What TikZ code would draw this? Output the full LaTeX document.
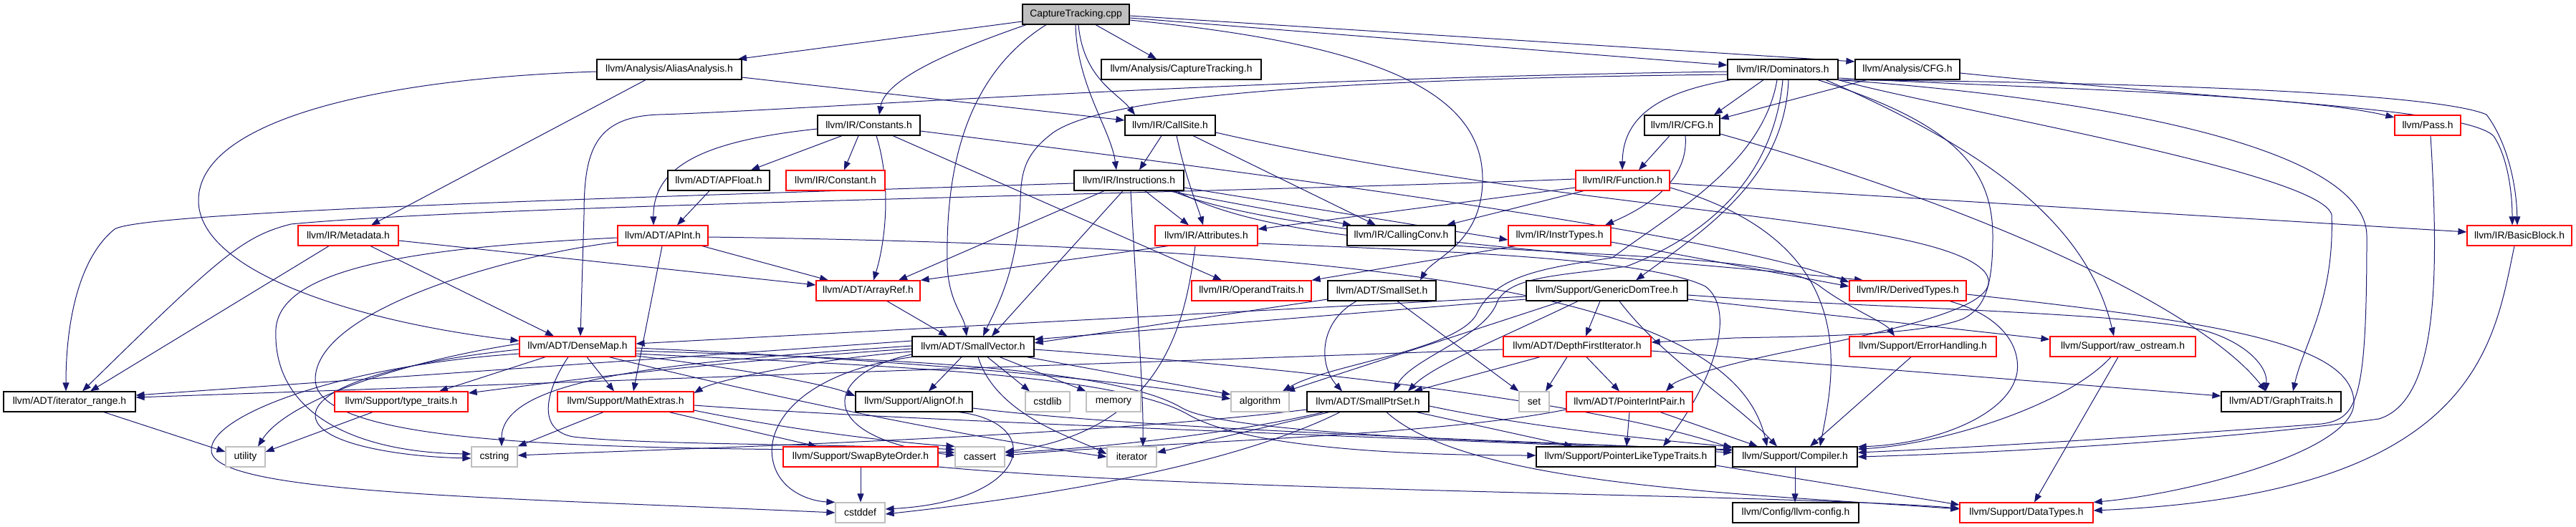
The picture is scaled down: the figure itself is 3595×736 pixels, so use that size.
\documentclass[tikz,border=0pt]{standalone}
\usepackage{fontspec}
\setmainfont{Liberation Sans}
\usetikzlibrary{arrows.meta,calc}
\definecolor{edgec}{RGB}{25,25,112}
\definecolor{grayc}{RGB}{191,191,191}
\definecolor{redc}{RGB}{255,0,0}
\pgfdeclarelayer{bg}
\pgfsetlayers{bg,main}
\begin{document}
\begin{tikzpicture}[x=1pt,y=-1pt,
  nbox/.style={draw=black,line width=1.2pt,fill=white,minimum height=28pt,inner sep=0pt,font=\fontsize{13.9}{16}\selectfont},
  blk/.style={nbox},
  rd/.style={nbox,draw=redc},
  gr/.style={nbox,draw=grayc},
  rt/.style={nbox,fill=grayc},
  conn/.style={draw=edgec,line width=1pt,-{Triangle[length=12pt,width=9pt]}}]
\useasboundingbox (0,0) rectangle (3595,736);
% ---------------- nodes
\node[rt,minimum width=149pt] (root) at (1501.5,20) {CaptureTracking.cpp};
\node[blk,minimum width=202pt] (AA) at (934,97) {llvm/Analysis/AliasAnalysis.h};
\node[blk,minimum width=223pt] (CTh) at (1648.5,97) {llvm/Analysis/CaptureTracking.h};
\node[blk,minimum width=154pt] (Dom) at (2488,97) {llvm/IR/Dominators.h};
\node[blk,minimum width=146pt] (ACFG) at (2662,97) {llvm/Analysis/CFG.h};
\node[blk,minimum width=143pt] (Cons) at (1212.5,175) {llvm/IR/Constants.h};
\node[blk,minimum width=126pt] (CS) at (1633,175) {llvm/IR/CallSite.h};
\node[blk,minimum width=105pt] (ICFG) at (2347.5,175) {llvm/IR/CFG.h};
\node[rd,minimum width=92pt] (Pass) at (3388,175) {llvm/Pass.h};
\node[blk,minimum width=142pt] (APF) at (1003,252) {llvm/ADT/APFloat.h};
\node[rd,minimum width=138pt] (Const) at (1166,252) {llvm/IR/Constant.h};
\node[blk,minimum width=153pt] (Instr) at (1575.5,252) {llvm/IR/Instructions.h};
\node[rd,minimum width=131pt] (Func) at (2264.5,252) {llvm/IR/Function.h};
\node[rd,minimum width=140pt] (Meta) at (486,329) {llvm/IR/Metadata.h};
\node[rd,minimum width=126pt] (APInt) at (925,329) {llvm/ADT/APInt.h};
\node[rd,minimum width=143pt] (Attr) at (1683.5,329) {llvm/IR/Attributes.h};
\node[blk,minimum width=151pt] (CC) at (1955.5,329) {llvm/IR/CallingConv.h};
\node[rd,minimum width=143pt] (IT) at (2176.5,329) {llvm/IR/InstrTypes.h};
\node[rd,minimum width=146pt] (BB) at (3516,329) {llvm/IR/BasicBlock.h};
\node[rd,minimum width=145pt] (AR) at (1211.5,406) {llvm/ADT/ArrayRef.h};
\node[rd,minimum width=167pt] (OT) at (1746.5,406) {llvm/IR/OperandTraits.h};
\node[blk,minimum width=151pt] (SS) at (1928.5,406) {llvm/ADT/SmallSet.h};
\node[blk,minimum width=225pt] (GDT) at (2242.5,406) {llvm/Support/GenericDomTree.h};
\node[rd,minimum width=163pt] (DT) at (2662.5,406) {llvm/IR/DerivedTypes.h};
\node[rd,minimum width=162pt] (DM) at (806,484) {llvm/ADT/DenseMap.h};
\node[blk,minimum width=170pt] (SV) at (1358,484) {llvm/ADT/SmallVector.h};
\node[rd,minimum width=206pt] (DFI) at (2201,484) {llvm/ADT/DepthFirstIterator.h};
\node[rd,minimum width=205pt] (EH) at (2683.5,484) {llvm/Support/ErrorHandling.h};
\node[rd,minimum width=203pt] (RO) at (2962.5,484) {llvm/Support/raw\_ostream.h};
\node[blk,minimum width=184pt] (IR) at (97,561) {llvm/ADT/iterator\_range.h};
\node[rd,minimum width=186pt] (TT) at (560,561) {llvm/Support/type\_traits.h};
\node[rd,minimum width=190pt] (ME) at (873,561) {llvm/Support/MathExtras.h};
\node[blk,minimum width=163pt] (AO) at (1275.5,561) {llvm/Support/AlignOf.h};
\node[gr,minimum width=62pt] (cstdlib) at (1462,561) {cstdlib};
\node[gr,minimum width=76pt] (memory) at (1554,561) {memory};
\node[gr,minimum width=81pt] (algorithm) at (1758.5,561) {algorithm};
\node[blk,minimum width=170pt] (SPS) at (1909,561) {llvm/ADT/SmallPtrSet.h};
\node[gr,minimum width=42pt] (set) at (2141,561) {set};
\node[rd,minimum width=176pt] (PIP) at (2274,561) {llvm/ADT/PointerIntPair.h};
\node[blk,minimum width=167pt] (GT) at (3183.5,561) {llvm/ADT/GraphTraits.h};
\node[gr,minimum width=55pt] (utility) at (342.5,638) {utility};
\node[gr,minimum width=64pt] (cstring) at (690,638) {cstring};
\node[rd,minimum width=216pt] (SBO) at (1201,638) {llvm/Support/SwapByteOrder.h};
\node[gr,minimum width=69pt] (cassert) at (1367.5,638) {cassert};
\node[gr,minimum width=69pt] (iterator) at (1579.5,638) {iterator};
\node[blk,minimum width=250pt] (PLTT) at (2269,638) {llvm/Support/PointerLikeTypeTraits.h};
\node[blk,minimum width=174pt] (Comp) at (2505,638) {llvm/Support/Compiler.h};
\node[gr,minimum width=69pt] (cstddef) at (1200.5,716) {cstddef};
\node[blk,minimum width=176pt] (LC) at (2506,716) {llvm/Config/llvm-config.h};
\node[rd,minimum width=186pt] (DTy) at (2828,716) {llvm/Support/DataTypes.h};
% ---------------- edges
\begin{pgfonlayer}{bg}
% root
\draw[conn] (root.west |- 0,30) -- (AA.north -| 1030,0);
\draw[conn] (root.south -| 1432,0) .. controls (1330,70) and (1235,110) .. (Cons.north -| 1227,0);
\draw[conn] (root.south -| 1460,0) .. controls (1340,110) and (1320,250) .. (1322,368) .. controls (1323,420) and (1345,440) .. (SV.north -| 1349,0);
\draw[conn] (root.south -| 1501,0) .. controls (1503,120) and (1550,180) .. (Instr.north -| 1558,0);
\draw[conn] (root.south -| 1505,0) .. controls (1512,110) and (1560,130) .. (CS.north -| 1584,0);
\draw[conn] (root.south -| 1529,0) -- (CTh.north -| 1614,0);
\draw[conn] (root.east |- 0,28) .. controls (1900,60) and (2069,120) .. (2069,250) .. controls (2069,340) and (2000,360) .. (SS.north -| 1982,0);
\draw[conn] (root.east |- 0,22) -- (ACFG.west |- 0,86);
\draw[conn] (root.east |- 0,25) -- (Dom.west |- 0,91);
% AliasAnalysis
\draw[conn] (AA.south -| 901,0) -- (Meta.north -| 518,0);
\draw[conn] (AA.west |- 0,100) .. controls (520,110) and (277,170) .. (277,280) .. controls (277,380) and (500,450) .. (DM.west |- 0,476);
\draw[conn] (AA.east |- 0,108) -- (CS.west |- 0,168);
% Constants
\draw[conn] (Cons.south -| 1175,0) -- (APF.north -| 1048,0);
\draw[conn] (Cons.south -| 1198,0) -- (Const.north -| 1178,0);
\draw[conn] (Cons.west |- 0,180) .. controls (1000,195) and (911,225) .. (APInt.north -| 912,0);
\draw[conn] (Cons.south -| 1223,0) .. controls (1245,260) and (1235,340) .. (AR.north -| 1219,0);
\draw[conn] (Cons.south -| 1246,0) -- (OT.north -| 1705,0);
\draw[conn] (Cons.east |- 0,183) .. controls (1900,260) and (2400,330) .. (DT.west |- 0,394);
% CallSite
\draw[conn] (CS.south -| 1621,0) -- (Instr.north -| 1590,0);
\draw[conn] (CS.south -| 1642,0) .. controls (1655,250) and (1672,290) .. (Attr.north -| 1679,0);
\draw[conn] (CS.south -| 1665,0) -- (CC.north -| 1920,0);
\draw[conn] (CS.east |- 0,185) .. controls (2200,300) and (2700,300) .. (2770,380) .. controls (2800,420) and (2700,450) .. (2500,490) .. controls (2400,510) and (2340,530) .. (PIP.north -| 2325,0);
% Instructions
\draw[conn] (Instr.west |- 0,256) .. controls (900,275) and (200,295) .. (160,320) .. controls (110,360) and (92,450) .. (IR.north -| 92,0);
\draw[conn] (Instr.south -| 1541,0) -- (AR.north -| 1254,0);
\draw[conn] (Instr.south -| 1567,0) -- (SV.north -| 1384,0);
\draw[conn] (Instr.south -| 1578,0) .. controls (1585,400) and (1596,550) .. (iterator.north -| 1595,0);
\draw[conn] (Instr.south -| 1598,0) -- (Attr.north -| 1659,0);
\draw[conn] (Instr.south -| 1630,0) -- (CC.north -| 1886,0);
\draw[conn] (Instr.south -| 1636,0) .. controls (1780,330) and (2300,360) .. (DT.north -| 2600,0);
\draw[conn] (Instr.south -| 1642,0) .. controls (1850,380) and (2450,330) .. (2540,400) .. controls (2580,430) and (2630,450) .. (EH.north -| 2644,0);
\draw[conn] (Instr.east |- 0,262) -- (IT.west |- 0,335);
% Function
\draw[conn] (Func.west |- 0,250) .. controls (1700,270) and (700,285) .. (406,313) .. controls (340,330) and (310,355) .. (IR.north -| 115,0);
\draw[conn] (Func.west |- 0,262) -- (Attr.east |- 0,320);
\draw[conn] (Func.south -| 2210,0) -- (CC.north -| 2019,0);
\draw[conn] (Func.east |- 0,256) -- (BB.west |- 0,324);
\draw[conn] (Func.east |- 0,262) .. controls (2600,340) and (2560,520) .. (Comp.north -| 2540,0);
% Metadata
\draw[conn] (Meta.south -| 459,0) -- (IR.north -| 126,0);
\draw[conn] (Meta.south -| 517,0) -- (DM.north -| 773,0);
\draw[conn] (Meta.east |- 0,336) -- (AR.west |- 0,398);
% APInt
\draw[conn] (APInt.south -| 980,0) -- (AR.north -| 1156,0);
\draw[conn] (APInt.south -| 924,0) -- (ME.north -| 884,0);
\draw[conn] (APInt.west |- 0,332) .. controls (600,345) and (390,370) .. (385,460) .. controls (380,580) and (500,632) .. (cstring.west |- 0,634);
\draw[conn] (APInt.west |- 0,338) .. controls (720,355) and (440,430) .. (440,530) .. controls (440,640) and (1000,622) .. (cassert.west |- 0,632);
\draw[conn] (APInt.east |- 0,331) .. controls (2000,345) and (2420,420) .. (Comp.north -| 2466,0);
% APFloat
\draw[conn] (APF.south -| 990,0) -- (APInt.north -| 945,0);
% Attributes
\draw[conn] (Attr.south -| 1630,0) -- (AR.north east);
\draw[conn] (Attr.south -| 1668,0) .. controls (1655,440) and (1630,600) .. (cassert.east |- 0,631);
\draw[conn] (Attr.east |- 0,340) .. controls (2000,350) and (2300,360) .. (2380,400) .. controls (2420,430) and (2400,520) .. (PLTT.north -| 2321,0);
% InstrTypes
\draw[conn] (IT.east |- 0,338) -- (DT.west |- 0,400);
\draw[conn] (IT.south -| 2115,0) -- (OT.north east);
% IR/CFG
\draw[conn] (ICFG.south -| 2330,0) -- (Func.north -| 2287,0);
\draw[conn] (ICFG.south -| 2352,0) .. controls (2356,240) and (2320,280) .. (IT.north -| 2240,0);
\draw[conn] (ICFG.east |- 0,187) .. controls (2800,300) and (3080,440) .. (GT.north -| 3162,0);
% Dominators
\draw[conn] (Dom.west |- 0,100) .. controls (1700,110) and (1100,155) .. (920,160) .. controls (830,163) and (815,210) .. (815,300) -- (DM.north -| 810,0);
\draw[conn] (Dom.west |- 0,104) .. controls (1900,110) and (1550,130) .. (1470,185) .. controls (1430,215) and (1425,240) .. (1424,280) .. controls (1420,380) and (1390,430) .. (SV.north -| 1372,0);
\draw[conn] (Dom.south -| 2461,0) -- (ICFG.north -| 2392,0);
\draw[conn] (Dom.south -| 2415,0) .. controls (2340,125) and (2265,150) .. (Func.north -| 2264,0);
\draw[conn] (Dom.south -| 2480,0) .. controls (2460,230) and (2330,300) .. (2250,360) .. controls (2150,375) and (2085,385) .. (2060,440) .. controls (2030,490) and (1850,510) .. (algorithm.north -| 1790,0);
\draw[conn] (Dom.south -| 2488,0) .. controls (2475,250) and (2380,330) .. (2270,372) .. controls (2180,385) and (2110,385) .. (2090,420) .. controls (2075,470) and (1970,500) .. (SPS.north -| 1945,0);
\draw[conn] (Dom.south -| 2496,0) .. controls (2490,250) and (2380,320) .. (GDT.north -| 2283,0);
\draw[conn] (Dom.south -| 2537,0) .. controls (2720,170) and (2781,230) .. (2781,330) .. controls (2781,400) and (2770,430) .. (2740,445) .. controls (2680,470) and (2500,470) .. (2420,472) -- (DFI.east |- 0,478);
\draw[conn] (Dom.south -| 2548,0) .. controls (2750,200) and (2910,300) .. (RO.north -| 2950,0);
\draw[conn] (Dom.south east) .. controls (2700,150) and (3240,240) .. (3254,300) .. controls (3258,420) and (3215,480) .. (GT.north -| 3200,0);
\draw[conn] (Dom.south east) .. controls (2900,135) and (3303,200) .. (3303,330) .. controls (3303,560) and (3290,585) .. (3240,592) .. controls (3000,610) and (2750,625) .. (Comp.east |- 0,632);
\draw[conn] (Dom.east |- 0,109) .. controls (2800,122) and (3200,130) .. (Pass.west |- 0,164);
\draw[conn] (Dom.south east) .. controls (3000,115) and (3400,130) .. (3470,160) .. controls (3500,200) and (3512,260) .. (BB.north -| 3513,0);
% Analysis/CFG
\draw[conn] (ACFG.south -| 2605,0) -- (ICFG.east |- 0,166);
\draw[conn] (ACFG.east |- 0,102) .. controls (3100,140) and (3440,150) .. (3480,190) .. controls (3500,220) and (3506,270) .. (BB.north -| 3506,0);
% Pass, BasicBlock, ArrayRef
\draw[conn] (Pass.south -| 3392,0) .. controls (3405,400) and (3400,560) .. (3320,585) .. controls (3100,615) and (2800,632) .. (Comp.east |- 0,638);
\draw[conn] (BB.south -| 3509,0) .. controls (3480,480) and (3460,690) .. (DTy.east |- 0,713);
\draw[conn] (AR.south -| 1238,0) -- (SV.north -| 1322,0);
% SmallSet
\draw[conn] (SS.south -| 1893,0) .. controls (1840,450) and (1840,510) .. (SPS.north -| 1873,0);
\draw[conn] (SS.west |- 0,418) -- (SV.east |- 0,479);
\draw[conn] (SS.south -| 1950,0) -- (set.north west);
% GenericDomTree
\draw[conn] (GDT.west |- 0,414) -- (DM.east |- 0,480);
\draw[conn] (GDT.west |- 0,418) -- (SV.east |- 0,474);
\draw[conn] (GDT.south -| 2180,0) -- (algorithm.north -| 1795,0);
\draw[conn] (GDT.south -| 2202,0) .. controls (2100,470) and (2000,510) .. (SPS.north -| 1965,0);
\draw[conn] (GDT.south -| 2233,0) -- (DFI.north -| 2213,0);
\draw[conn] (GDT.south -| 2260,0) .. controls (2320,500) and (2420,560) .. (Comp.north -| 2480,0);
\draw[conn] (GDT.east |- 0,418) -- (RO.west |- 0,474);
\draw[conn] (GDT.east |- 0,412) .. controls (2600,430) and (2950,435) .. (3070,460) .. controls (3130,475) and (3165,510) .. (GT.north -| 3162,0);
% DepthFirstIterator
\draw[conn] (DFI.east |- 0,490) -- (GT.west |- 0,553);
\draw[conn] (DFI.south -| 2214,0) -- (PIP.north -| 2260,0);
\draw[conn] (DFI.south -| 2149,0) -- (SPS.north -| 1973,0);
\draw[conn] (DFI.west |- 0,488) -- (IR.east |- 0,555);
\draw[conn] (DFI.south -| 2187,0) -- (set.north -| 2157,0);
% SmallVector
\draw[conn] (SV.west |- 0,476) -- (IR.east |- 0,552);
\draw[conn] (SV.west |- 0,483) .. controls (950,505) and (700,525) .. (cstring.north -| 700,0);
\draw[conn] (SV.west |- 0,487) .. controls (1000,505) and (800,530) .. (TT.east |- 0,549);
\draw[conn] (SV.west |- 0,491) .. controls (1150,500) and (1000,530) .. (ME.east |- 0,549);
\draw[conn] (SV.south -| 1342,0) -- (AO.north -| 1296,0);
\draw[conn] (SV.south -| 1378,0) -- (cstdlib.north -| 1437,0);
\draw[conn] (SV.south -| 1395,0) -- (memory.north west);
\draw[conn] (SV.south -| 1433,0) -- (algorithm.west |- 0,551);
\draw[conn] (SV.south -| 1365,0) .. controls (1390,580) and (1500,612) .. (iterator.west |- 0,634);
\draw[conn] (SV.east |- 0,488) .. controls (1900,520) and (2250,570) .. (Comp.west |- 0,626);
\draw[conn] (SV.west |- 0,495) .. controls (1150,520) and (1130,610) .. (cassert.west |- 0,636);
\draw[conn] (SV.south west) .. controls (1120,520) and (1070,590) .. (1078,640) .. controls (1085,685) and (1130,700) .. (cstddef.north west);
% DenseMap
\draw[conn] (DM.south -| 761,0) -- (TT.north -| 613,0);
\draw[conn] (DM.south -| 819,0) -- (ME.north -| 857,0);
\draw[conn] (DM.west |- 0,480) .. controls (560,505) and (400,560) .. (utility.north -| 360,0);
\draw[conn] (DM.west |- 0,488) .. controls (560,505) and (440,540) .. (440,580) .. controls (440,620) and (560,638) .. (cstring.west |- 0,640);
\draw[conn] (DM.west |- 0,494) .. controls (480,510) and (290,580) .. (295,630) .. controls (300,690) and (700,695) .. (cstddef.west |- 0,716);
\draw[conn] (DM.south -| 793,0) .. controls (765,540) and (745,600) .. (800,610) .. controls (900,622) and (1200,620) .. (cassert.west |- 0,628);
\draw[conn] (DM.south -| 850,0) .. controls (1100,560) and (1350,610) .. (iterator.west |- 0,638);
\draw[conn] (DM.east |- 0,486) .. controls (1100,495) and (1500,520) .. (algorithm.west |- 0,557);
\draw[conn] (DM.east |- 0,497) .. controls (1000,510) and (1150,535) .. (AO.west |- 0,553);
\draw[conn] (DM.east |- 0,490) .. controls (1200,500) and (1550,510) .. (1650,570) .. controls (1720,610) and (2200,620) .. (Comp.west |- 0,628);
\draw[conn] (DM.east |- 0,494) .. controls (1200,510) and (1560,520) .. (1660,580) .. controls (1750,630) and (2000,636) .. (PLTT.west |- 0,636);
% type_traits, iterator_range
\draw[conn] (TT.south -| 520,0) -- (utility.east |- 0,631);
\draw[conn] (IR.south -| 145,0) -- (utility.west |- 0,631);
% MathExtras
\draw[conn] (ME.south -| 842,0) -- (cstring.north east);
\draw[conn] (ME.south -| 934,0) -- (SBO.north -| 1140,0);
\draw[conn] (ME.east |- 0,566) .. controls (1300,590) and (2000,612) .. (Comp.west |- 0,632);
\draw[conn] (ME.east |- 0,573) .. controls (1100,600) and (1250,618) .. (cassert.north west);
% AlignOf
\draw[conn] (AO.south -| 1338,0) .. controls (1460,590) and (1440,700) .. (cstddef.east |- 0,711);
\draw[conn] (AO.east |- 0,570) .. controls (1600,600) and (2100,615) .. (Comp.west |- 0,629);
% SmallPtrSet
\draw[conn] (SPS.west |- 0,572) .. controls (1500,612) and (900,628) .. (cstring.east |- 0,636);
\draw[conn] (SPS.south -| 1847,0) .. controls (1700,610) and (1500,628) .. (cassert.east |- 0,632);
\draw[conn] (SPS.south -| 1870,0) .. controls (1700,660) and (1400,700) .. (cstddef.east |- 0,718);
\draw[conn] (SPS.south -| 1855,0) -- (iterator.east |- 0,632);
\draw[conn] (SPS.south -| 1935,0) .. controls (2050,680) and (2450,690) .. (DTy.west |- 0,711);
\draw[conn] (SPS.south -| 1977,0) -- (PLTT.north -| 2195,0);
\draw[conn] (SPS.east |- 0,567) .. controls (2150,600) and (2350,618) .. (Comp.west |- 0,624);
% PointerIntPair
\draw[conn] (PIP.south -| 2274,0) -- (PLTT.north -| 2270,0);
\draw[conn] (PIP.south -| 2317,0) -- (Comp.north -| 2453,0);
\draw[conn] (PIP.west |- 0,572) .. controls (2000,610) and (1600,618) .. (cassert.east |- 0,636);
% PointerLikeTypeTraits, SwapByteOrder
\draw[conn] (PLTT.east |- 0,650) -- (DTy.west |- 0,705);
\draw[conn] (SBO.south -| 1201,0) -- (cstddef.north -| 1201,0);
\draw[conn] (SBO.east |- 0,652) .. controls (1700,688) and (2500,690) .. (DTy.west |- 0,710);
% ErrorHandling, raw_ostream, DerivedTypes
\draw[conn] (EH.south -| 2667,0) -- (Comp.north -| 2526,0);
\draw[conn] (RO.south -| 2946,0) .. controls (2880,570) and (2700,622) .. (Comp.east |- 0,627);
\draw[conn] (RO.south -| 2956,0) -- (DTy.north -| 2839,0);
\draw[conn] (DT.south -| 2721,0) .. controls (2790,440) and (2820,480) .. (2815,520) .. controls (2805,580) and (2700,620) .. (Comp.east |- 0,624);
\draw[conn] (DT.east |- 0,411) .. controls (3100,450) and (3280,480) .. (3285,560) .. controls (3290,630) and (3050,690) .. (DTy.north east);
% Compiler
\draw[conn] (Comp.south -| 2505,0) -- (LC.north -| 2505,0);
\end{pgfonlayer}
\end{tikzpicture}
\end{document}
